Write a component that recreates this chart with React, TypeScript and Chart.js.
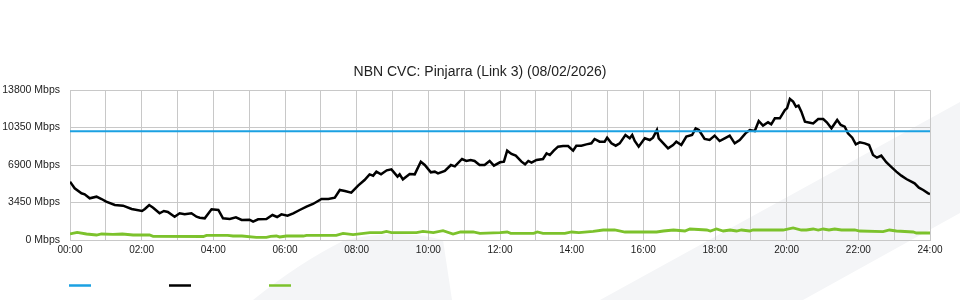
import React, { useEffect, useRef } from "react";
import { Chart, registerables } from "chart.js";

Chart.register(...registerables);

const TITLE = "NBN CVC: Pinjarra (Link 3) (08/02/2026)";

const Y_TICKS = [0, 3450, 6900, 10350, 13800];
const X_LABEL_HOURS = [0, 2, 4, 6, 8, 10, 12, 14, 16, 18, 20, 22, 24];

const capacityHours = [0, 24];
const capacityValues = [10000, 10000];

const downHours = [
  0, 0.13, 0.32, 0.41, 0.55, 0.74, 0.88, 1.01, 1.25, 1.48, 1.72, 2.01, 2.09, 2.21, 2.32, 2.5, 2.62, 2.73, 2.92, 3.06,
  3.2, 3.39, 3.53, 3.62, 3.76, 3.95, 4.14, 4.27, 4.46, 4.63, 4.79, 5.01, 5.11, 5.25, 5.48, 5.65, 5.78, 5.9, 6.07, 6.23,
  6.41, 6.6, 6.78, 7.02, 7.21, 7.39, 7.53, 7.67, 7.85, 8.04, 8.22, 8.36, 8.46, 8.55, 8.68, 8.84, 8.97, 9.14, 9.2, 9.29,
  9.48, 9.62, 9.79, 9.9, 10.07, 10.18, 10.27, 10.46, 10.63, 10.74, 10.94, 11.06, 11.18, 11.29, 11.43, 11.57, 11.71, 11.83, 12.0, 12.11,
  12.2, 12.32, 12.44, 12.6, 12.7, 12.79, 12.88, 13.02, 13.2, 13.3, 13.39, 13.5, 13.62, 13.76, 13.9, 14.04, 14.13, 14.27, 14.41, 14.55,
  14.64, 14.78, 14.92, 14.99, 15.11, 15.23, 15.34, 15.5, 15.62, 15.69, 15.76, 15.87, 16.04, 16.18, 16.27, 16.38, 16.43, 16.56, 16.69, 16.83,
  16.92, 17.06, 17.2, 17.36, 17.46, 17.55, 17.71, 17.85, 17.99, 18.13, 18.27, 18.41, 18.55, 18.69, 18.85, 18.97, 19.11, 19.22, 19.34, 19.48,
  19.57, 19.67, 19.81, 19.95, 20.01, 20.09, 20.18, 20.26, 20.33, 20.41, 20.51, 20.65, 20.74, 20.88, 21.02, 21.12, 21.25, 21.41, 21.51, 21.62,
  21.71, 21.83, 21.93, 22.04, 22.18, 22.3, 22.41, 22.52, 22.64, 22.78, 22.91, 23.06, 23.2, 23.34, 23.48, 23.57, 23.69, 23.81, 23.95, 24,
];
const downValues = [
  5364, 4756, 4296, 4204, 3836, 3986, 3772, 3524, 3220, 3156, 2852, 2668, 2850, 3220, 2972, 2456, 2668, 2576, 2144, 2456,
  2364, 2456, 2144, 2052, 1996, 2824, 2760, 1996, 1934, 2090, 1840, 1868, 1685, 1900, 1934, 2300, 2116, 2360, 2236, 2456,
  2760, 3066, 3312, 3772, 3772, 3894, 4600, 4508, 4354, 5000, 5520, 6040, 5920, 6286, 6040, 6408, 6500, 5826, 6040, 5582,
  6070, 6040, 7206, 6900, 6226, 6286, 6132, 6348, 6900, 6776, 7452, 7268, 7360, 7268, 6900, 6900, 7268, 6840, 7150, 7206,
  8220, 7912, 7760, 7206, 6960, 7268, 7114, 7360, 7452, 7976, 7820, 8220, 8584, 8646, 8646, 8220, 8676, 8676, 8800, 8893,
  9292, 9046, 9046, 9415, 8893, 8676, 8893, 9660, 9354, 9660, 9108, 8584, 9354, 9200, 9415, 10120, 9354, 8893, 8433, 8740,
  9046, 8740, 9507, 9660, 10274, 10120, 9292, 9200, 9600, 9108, 9354, 9600, 8893, 9200, 9814, 10120, 10030, 10950, 10520, 10826,
  10640, 11194, 11194, 11960, 12112, 12972, 12728, 12270, 12360, 11806, 10880, 10790, 10730, 11132, 11132, 10826, 10274, 11040, 10580, 10426,
  9814, 9415, 8800, 8986, 8893, 8740, 7820, 7574, 7760, 7150, 6746, 6286, 5920, 5612, 5372, 5214, 4816, 4600, 4296, 4234,
];

const upHours = [
  0, 0.2, 0.46, 0.74, 0.88, 1.2, 1.46, 1.76, 2.22, 2.32, 3.72, 3.81, 4.4, 4.55, 4.8, 5.2, 5.48, 5.6, 5.76, 5.85,
  6.04, 6.51, 6.6, 7.43, 7.62, 7.9, 8.37, 8.7, 8.83, 8.97, 9.67, 9.85, 10.14, 10.41, 10.69, 10.9, 11.25, 11.44, 12.0, 12.2,
  12.3, 12.94, 13.04, 13.2, 13.81, 14.0, 14.2, 14.6, 14.88, 15.2, 15.49, 16.37, 16.56, 16.84, 17.16, 17.3, 17.77, 17.87, 18.04, 18.23,
  18.42, 18.6, 18.74, 18.97, 19.06, 19.9, 20.18, 20.41, 20.55, 20.74, 20.88, 21.02, 21.18, 21.34, 21.53, 21.9, 22.04, 22.69, 22.87, 23.06,
  23.53, 23.62, 24,
];
const upValues = [
  552, 705, 552, 460, 552, 520, 552, 460, 460, 337, 320, 430, 430, 368, 368, 245, 245, 330, 368, 280,
  368, 368, 430, 430, 613, 490, 674, 674, 797, 674, 674, 797, 674, 858, 552, 736, 736, 613, 674, 736,
  613, 613, 736, 613, 613, 736, 674, 797, 920, 920, 736, 736, 828, 920, 828, 1012, 920, 828, 1012, 828,
  920, 828, 920, 828, 920, 920, 1104, 920, 920, 1012, 920, 1012, 920, 1012, 920, 920, 828, 767, 920, 828,
  736, 644, 644,
];

const COLORS = { capacity: "#1ba1e2", down: "#000000", up: "#7cc22c" };

const toPoints = (xs: number[], ys: number[]) => xs.map((x, i) => ({ x, y: ys[i] }));
const hh = (h: number) => (h < 10 ? "0" + h : "" + h) + ":00";

const watermark = {
  id: "watermark",
  beforeDraw(chart: any) {
    const ctx = chart.ctx;
    ctx.save();
    ctx.fillStyle = "#f4f5f7";
    ctx.beginPath();
    ctx.moveTo(600, 300);
    ctx.lineTo(960, 102);
    ctx.lineTo(960, 213);
    ctx.lineTo(803, 300);
    ctx.closePath();
    ctx.fill();
    ctx.beginPath();
    ctx.moveTo(253, 300);
    ctx.quadraticCurveTo(300, 262, 345, 240);
    ctx.quadraticCurveTo(400, 228, 443, 240);
    ctx.lineTo(452, 300);
    ctx.closePath();
    ctx.fill();
    ctx.restore();
  },
};

// centre the title across the whole canvas, not only the padded area
const centreTitle = {
  id: "centreTitle",
  afterLayout(chart: any) {
    const t = chart.titleBlock;
    if (t) {
      t.left = 0;
      t.right = chart.width;
      t.width = chart.width;
    }
  },
};

const lineLegend = {
  id: "lineLegend",
  afterDraw(chart: any) {
    const ctx = chart.ctx;
    ctx.save();
    chart.data.datasets.forEach((ds: any, i: number) => {
      const x0 = 69 + 100 * i;
      ctx.strokeStyle = ds.borderColor;
      ctx.lineWidth = 2.5;
      ctx.beginPath();
      ctx.moveTo(x0, 285.5);
      ctx.lineTo(x0 + 22, 285.5);
      ctx.stroke();
    });
    ctx.restore();
  },
};

export default function App() {
  const ref = useRef<HTMLCanvasElement | null>(null);
  useEffect(() => {
    document.body.style.margin = "0";
    const canvas = ref.current;
    if (!canvas) return;
    const font = "'Liberation Sans', Arial, sans-serif";
    const chart = new Chart(canvas, {
      type: "line",
      data: {
        datasets: [
          {
            label: "Capacity",
            data: toPoints(capacityHours, capacityValues),
            borderColor: COLORS.capacity,
            borderWidth: 2,
            pointRadius: 0,
            fill: false,
          },
          {
            label: "Download",
            data: toPoints(downHours, downValues),
            borderColor: COLORS.down,
            borderWidth: 2.5,
            pointRadius: 0,
            tension: 0,
            fill: false,
          },
          {
            label: "Upload",
            data: toPoints(upHours, upValues),
            borderColor: COLORS.up,
            borderWidth: 2.8,
            pointRadius: 0,
            tension: 0,
            fill: false,
          },
        ],
      },
      options: {
        responsive: false,
        animation: false,
        layout: { padding: { left: 0, right: 30, top: 63.5, bottom: 30 } },
        plugins: {
          legend: { display: false },
          tooltip: { enabled: false },
          title: {
            display: true,
            text: TITLE,
            color: "#222",
            font: { family: font, size: 14, weight: "normal" },
            padding: { top: 0, bottom: 9.7 },
          },
        },
        scales: {
          x: {
            type: "linear",
            min: 0,
            max: 24,
            afterBuildTicks: (scale: any) => {
              const t = [];
              for (let h = 0; h <= 24; h++) t.push({ value: h });
              scale.ticks = t;
            },
            afterFit: (scale: any) => {
              scale.height = 30;
            },
            ticks: {
              autoSkip: false,
              maxRotation: 0,
              color: "#222",
              font: { family: font, size: 10 },
              padding: 4,
              callback: (v: any) => (X_LABEL_HOURS.includes(v) ? hh(v) : ""),
            },
            grid: { color: "#c8c8c8", lineWidth: 1, drawTicks: false },
            border: { color: "#c8c8c8" },
          },
          y: {
            min: 0,
            max: 13800,
            afterBuildTicks: (scale: any) => {
              scale.ticks = Y_TICKS.map((v) => ({ value: v }));
            },
            afterFit: (scale: any) => {
              scale.width = 70;
            },
            ticks: {
              color: "#222",
              font: { family: font, size: 10.5 },
              padding: 10,
              callback: (v: any) => v + " Mbps",
            },
            grid: { color: "#c8c8c8", lineWidth: 1, drawTicks: false },
            border: { color: "#c8c8c8" },
          },
        },
      },
      plugins: [watermark, centreTitle, lineLegend],
    });
    return () => chart.destroy();
  }, []);
  return (
    <div style={{ width: 960, height: 300 }}>
      <canvas ref={ref} width={960} height={300} />
    </div>
  );
}
